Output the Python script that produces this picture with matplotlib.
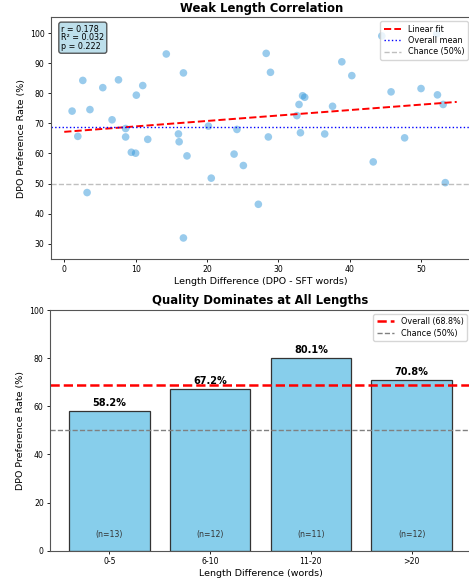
import numpy as np
import matplotlib
matplotlib.use("Agg")
import matplotlib.pyplot as plt


# -----------------------------
# Data
# -----------------------------
length_diff = [1.1, 1.9, 2.6, 3.2, 3.6, 5.4, 6.7, 7.6, 8.6, 8.6,
               9.4, 10.0, 10.1, 11.0, 11.7, 14.3, 16.0, 16.1, 16.7, 16.7,
               17.2, 20.2, 20.6, 23.8, 24.2, 25.1, 27.2, 28.3, 28.6, 28.9,
               32.6, 32.9, 33.1, 33.4, 33.7, 36.5, 37.6, 38.9, 40.3, 43.3,
               44.5, 45.8, 47.7, 50.0, 52.2, 52.3, 53.1, 53.4]
pref_rate = [74.1, 65.7, 84.3, 47.0, 74.6, 81.9, 71.2, 84.5, 68.3, 65.5,
             60.4, 60.1, 79.4, 82.6, 64.7, 93.1, 66.5, 63.9, 86.8, 31.9,
             59.2, 69.1, 51.8, 59.8, 68.0, 56.0, 43.1, 93.3, 65.5, 87.0,
             72.6, 76.3, 66.9, 79.2, 78.7, 66.5, 75.7, 90.5, 85.9, 57.2,
             99.1, 80.5, 65.2, 81.6, 99.8, 79.5, 76.3, 50.3]

fit_intercept = 67.2
fit_slope = 0.181
fit_x = [0, 55]
overall_mean = 68.8
chance = 50
stats_text = "r = 0.178\nR² = 0.032\np = 0.222"

bins = ["0-5", "6-10", "11-20", ">20"]
bin_rates = [58.2, 67.2, 80.1, 70.8]
bin_counts = [13, 12, 11, 12]


# -----------------------------
# Figure
# -----------------------------
W, H = 469, 581
fig = plt.figure(figsize=(W / 100, H / 100), dpi=100)

ax1 = fig.add_axes([50.7 / W, 1 - 258.7 / H, 421 / W, 241.4 / H])
ax2 = fig.add_axes([50.0 / W, 1 - 550.7 / H, 421 / W, 240.7 / H])

tick_fs = 5.6
label_fs = 6.8
title_fs = 8.4
legend_fs = 5.8

# -----------------------------
# Top: scatter + fit
# -----------------------------
ax1.scatter(length_diff, pref_rate, s=30, color="#3498db", alpha=0.5,
            edgecolors="none")
fx = np.array(fit_x)
ax1.plot(fx, fit_intercept + fit_slope * fx, "r--", lw=1.4, label="Linear fit")
ax1.axhline(overall_mean, color="blue", ls=":", lw=1.0, label="Overall mean")
ax1.axhline(chance, color="gray", ls="--", lw=1.0, alpha=0.5,
            label="Chance (50%)")

ax1.set_xlim(-1.9, 57.1)
ax1.set_ylim(25, 105.3)
ax1.set_xticks([0, 10, 20, 30, 40, 50])
ax1.set_yticks([30, 40, 50, 60, 70, 80, 90, 100])
ax1.tick_params(labelsize=tick_fs, length=2.5, width=0.6, pad=2)
ax1.set_xlabel("Length Difference (DPO - SFT words)", fontsize=label_fs,
               labelpad=2)
ax1.set_ylabel("DPO Preference Rate (%)", fontsize=label_fs, labelpad=3)
ax1.set_title("Weak Length Correlation", fontsize=title_fs,
              fontweight="bold", pad=4)
ax1.legend(loc="upper right", fontsize=legend_fs, handlelength=2.2,
           borderpad=0.4, labelspacing=0.3, framealpha=0.8)
ax1.text(0.025, 0.97, stats_text, transform=ax1.transAxes, va="top",
         ha="left", fontsize=legend_fs, linespacing=0.95,
         bbox=dict(boxstyle="round,pad=0.3", facecolor="lightblue",
                   edgecolor="#333333", alpha=0.8))

# -----------------------------
# Bottom: binned bars
# -----------------------------
xpos = np.arange(len(bins))
bars = ax2.bar(xpos, bin_rates, width=0.8, color="skyblue",
               edgecolor="#333333", linewidth=0.9)
ax2.axhline(overall_mean, color="red", ls="--", lw=1.8,
            label=f"Overall ({overall_mean}%)")
ax2.axhline(chance, color="gray", ls="--", lw=1.0,
            label=f"Chance ({chance}%)")

for b, v, n in zip(bars, bin_rates, bin_counts):
    cx = b.get_x() + b.get_width() / 2
    ax2.text(cx, v + 1.2, f"{v}%", ha="center", va="bottom",
             fontsize=7, fontweight="bold")
    ax2.text(cx, 6.8, f"(n={n})", ha="center", va="center",
             fontsize=tick_fs, color="#333333")

ax2.set_xticks(xpos)
ax2.set_xticklabels(bins)
ax2.set_ylim(0, 100)
ax2.set_yticks([0, 20, 40, 60, 80, 100])
ax2.tick_params(labelsize=tick_fs, length=2.5, width=0.6, pad=2)
ax2.set_xlabel("Length Difference (words)", fontsize=label_fs, labelpad=2)
ax2.set_ylabel("DPO Preference Rate (%)", fontsize=label_fs, labelpad=3)
ax2.set_title("Quality Dominates at All Lengths", fontsize=title_fs,
              fontweight="bold", pad=4)
ax2.legend(loc="upper right", fontsize=legend_fs, handlelength=2.2,
           borderpad=0.4, labelspacing=0.3, framealpha=0.8)

for ax in (ax1, ax2):
    for sp in ax.spines.values():
        sp.set_linewidth(0.8)
        sp.set_color("#555555")

fig.savefig("out.png", dpi=100)
